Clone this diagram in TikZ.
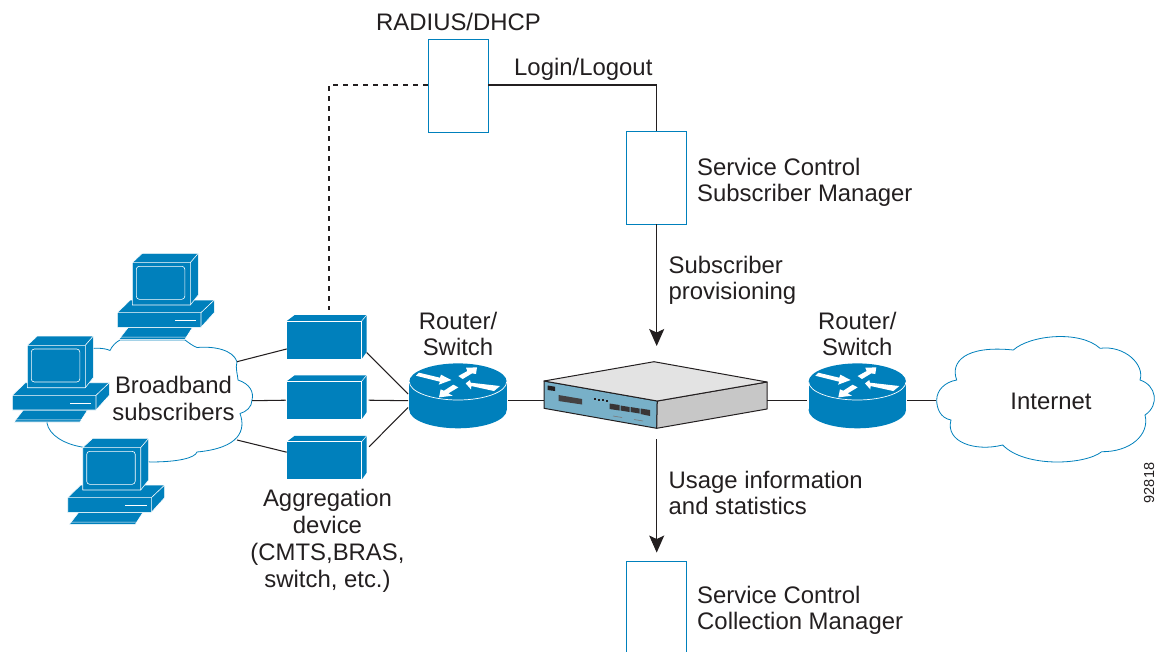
\documentclass[tikz,border=0pt]{standalone}
\usepackage{fontspec}
\setmainfont{Liberation Sans}
\usetikzlibrary{arrows.meta}
\definecolor{ciscoblue}{HTML}{0080BC}
\definecolor{inkdark}{HTML}{231F20}
\definecolor{facebl}{HTML}{78B0C8}
\tikzset{
  lbl/.style={text=inkdark,font=\fontsize{23.9}{26}\selectfont,inner sep=0pt,align=left},
  lblc/.style={text=inkdark,font=\fontsize{23.9}{26}\selectfont,inner sep=0pt,align=center},
  lblw/.style={text=inkdark,font=\fontsize{23.9}{27}\selectfont,inner sep=0pt,align=center},
  wirebox/.style={draw=ciscoblue,fill=white,line width=0.9pt,inner sep=0pt},
  agg/.style={fill=ciscoblue,inner sep=0pt,minimum width=74.5pt,minimum height=37.5pt},
  anchorbox/.style={inner sep=0pt,minimum width=97.4pt,minimum height=56pt},
  wire/.style={draw=inkdark,line width=1.05pt},
  cloudline/.style={draw=ciscoblue,fill=white,line width=0.8pt},
  pcfill/.style={fill=ciscoblue,draw=white,line width=0.6pt,line join=round},
  arr/.style={draw=inkdark,line width=1.05pt,-{Stealth[length=17pt,width=15pt,inset=3.5pt]}}
}
\newcommand{\pccomputer}[2]{%
  \begin{scope}[shift={(#1,#2)}]
    \path[pcfill] (1.7,86) -- (11,74) -- (75.3,74) -- (67.7,86) -- cycle;
    \draw[white,line width=0.6pt] (1.7,83.8) -- (69.5,83.8) -- (75.3,76);
    \path[pcfill] (0,59.3) -- (13,46.7) -- (97,46.7) -- (97,59.3) -- (83.7,74) -- (0,74) -- cycle;
    \draw[white,line width=0.6pt] (0,59.3) -- (83.7,59.3) -- (97,46.7) (83.7,59.3) -- (83.7,74);
    \draw[white,line width=1pt] (57.7,67.3) -- (79,67.3);
    \path[pcfill] (15,51.7) -- (15,9.3) -- (25,0) -- (81,0) -- (81,41.7) -- (73,51.7) -- cycle;
    \draw[white,line width=0.6pt] (15,9.3) -- (73,9.3) -- (81,0) (73,9.3) -- (73,51.7);
    \draw[white,line width=0.6pt,rounded corners=3pt] (19,13) rectangle (67.5,46);
  \end{scope}}
\newcommand{\routerbody}[1]{%
  \begin{scope}[shift={(#1,381.7)}]
    \fill[ciscoblue] (-48.7,0) rectangle (48.7,28.3);
    \fill[ciscoblue] (0,28.3) ellipse [x radius=48.7,y radius=18.3];
    \fill[ciscoblue] (0,0) ellipse [x radius=48.7,y radius=18.3];
    \draw[white,line width=0.7pt] (-48.7,0) arc [start angle=180,end angle=0,x radius=48.7,y radius=18.3];
    \begin{scope}[x=0.3333pt,y=-0.3333pt]
      \fill[white] (-126,-18) -- (-117,-27) -- (-54,-12) -- (-51,-21) -- (-20,-5) -- (-58,9) -- (-54,0) -- cycle;
      \fill[white] (1,-17) -- (28,-32) -- (24,-42) -- (57,-43) -- (54,-23) -- (42,-25) -- (14,-8) -- cycle;
      \fill[white] (23,5) -- (36,-5) -- (38,3) -- (126,13) -- (108,28) -- (40,13) -- (39,23) -- cycle;
      \fill[white] (-57,47) -- (-52,23) -- (-42,27) -- (-14,9) -- (1,17) -- (-29,35) -- (-16,42) -- cycle;
    \end{scope}
  \end{scope}}
\begin{document}
\begin{tikzpicture}[x=1pt,y=-1pt]
\useasboundingbox (0,0) rectangle (1160,651);
\clip (0,0) rectangle (1160,651);

% named anchors
\node[anchorbox] (r1) at (458,400.7) {};
\node[anchorbox] (r2) at (857.3,400.7) {};
\node[inner sep=0pt,minimum width=223pt,minimum height=67pt] (sce) at (655.5,400.7) {};
\node[inner sep=0pt,minimum width=0pt,minimum height=0pt] (cloudLe) at (252,400.7) {};
\node[inner sep=0pt] (cloudRw) at (936.7,400.7) {};

% boxes
\node[wirebox,minimum width=60pt,minimum height=93pt] (radius) at (458,85.5) {};
\node[wirebox,minimum width=60pt,minimum height=93pt] (smgr) at (656.7,177.5) {};
\node[wirebox,minimum width=60pt,minimum height=110pt] (cmgr) at (656.7,616) {};

% aggregation devices
\node[agg] (agg1) at (324.2,340) {};
\node[agg] (agg2) at (324.2,400.2) {};
\node[agg] (agg3) at (324.2,460.7) {};
\foreach \a in {agg1,agg2,agg3}{
  \path[fill=ciscoblue] (\a.north west) -- ([xshift=8pt,yshift=6pt]\a.north west) -- ([xshift=5pt,yshift=6pt]\a.north east) -- ([xshift=5pt,yshift=7pt]\a.south east) -- (\a.south east) -- (\a.north east) -- cycle;
  \draw[white,line width=0.5pt] (\a.north east) -- ([xshift=5pt,yshift=6pt]\a.north east);
  \draw[white,line width=0.7pt] (\a.north west) -- (\a.north east) -- (\a.south east);
}

% clouds
\path[cloudline] (95,348.3) .. controls (102,348) and (107,349) .. (110,350.5)
  .. controls (112,346) and (116,342) .. (120,340)
  -- (185,340) .. controls (189,343) and (193,346) .. (197,347.5)
  .. controls (215,346) and (233,350) .. (237,361.7)
  .. controls (235,368) and (238,376) .. (238,380)
  .. controls (250,384) and (254,392) .. (252,400)
  .. controls (252,407) and (246,412) .. (240,413.5)
  .. controls (246,430) and (240,448) .. (197,452)
  .. controls (195,458) and (178,462) .. (150,462)
  -- (82,447) .. controls (64,444) and (49,435) .. (47,423)
  -- (60,350) -- cycle;
\path[cloudline] (936.7,400) .. controls (936.7,390) and (945,382) .. (956.7,380)
  .. controls (950,362) and (965,345) .. (1013.3,350)
  .. controls (1030,335) and (1080,330) .. (1100,348.3)
  .. controls (1125,345) and (1145,365) .. (1140,380)
  .. controls (1156,385) and (1160,405) .. (1145,415)
  .. controls (1150,435) and (1130,452) .. (1101.7,451.7)
  .. controls (1085,465) and (1025,468) .. (1002.7,445)
  .. controls (975,452) and (945,442) .. (951,420)
  .. controls (940,418) and (936.7,408) .. (936.7,400) -- cycle;

% computers
\pccomputer{117.3}{253.3}
\pccomputer{12.3}{336}
\pccomputer{67.7}{438.3}

% routers
\routerbody{458}
\routerbody{857.3}

% service engine
\path[draw=inkdark,fill=facebl,line width=1pt,line join=round] (544,381) -- (657.3,401) -- (656.7,428.3) -- (544,408.3) -- cycle;
\path[draw=inkdark,fill=black!22,line width=1pt,line join=round] (657.3,401) -- (767,382) -- (767,409) -- (656.7,428.3) -- cycle;
\path[draw=inkdark,fill=black!11,line width=1pt,line join=round] (544,381) -- (654,361.7) -- (767,382) -- (657.3,401) -- cycle;
\fill[inkdark] (547.5,385.5) -- (555,386.7) -- (555,391) -- (547.5,390) -- cycle;
\fill[inkdark!85] (558.5,395) -- (582,399) -- (582,404.5) -- (558.5,401) -- cycle;
\fill[inkdark] (593.5,398) rectangle +(2.5,2);
\fill[inkdark] (597.5,398.5) rectangle +(2.5,2);
\fill[inkdark] (601.5,399) rectangle +(2.5,2);
\fill[inkdark] (605.5,399.5) rectangle +(2.5,2);
\fill[inkdark!90] (609.5,403.5) -- (619.5,405) -- (619.5,410.5) -- (609.5,409) -- cycle;
\fill[inkdark!90] (620.5,405.5) -- (629.5,407) -- (629.5,412) -- (620.5,410.5) -- cycle;
\fill[inkdark!90] (630.5,407) -- (639.5,408.5) -- (639.5,413.5) -- (630.5,412) -- cycle;
\fill[inkdark!90] (640.5,408.5) -- (650,410) -- (650,416) -- (640.5,414) -- cycle;
\draw[inkdark!60,line width=0.6pt] (613,416) -- (622,417.5) (634,419.5) -- (643,421);

% connectors
\draw[wire] (radius.east |- 0,85) -- (smgr.north |- 0,85) -- (smgr.north);
\draw[wire,dash pattern=on 5pt off 5pt] (radius.west |- 0,85) -- (329,85) -- ([xshift=4.8pt,yshift=11pt]agg1.north);
\draw[arr] (smgr.south) -- ([yshift=21pt]sce.north -| smgr.south);
\draw[arr] ([yshift=-5pt]sce.south -| cmgr.north) -- ([yshift=8pt]cmgr.north);
\draw[wire] (237,361.7) -- ([yshift=10pt]agg1.south west);
\draw[wire] (cloudLe) -- ([xshift=-1pt]agg2.west);
\draw[wire] (237,440) -- ([yshift=8.5pt]agg3.west);
\draw[wire] ([xshift=5pt,yshift=6.5pt]agg1.south east) -- ([xshift=-1pt,yshift=6.7pt]r1.west);
\draw[wire] ([xshift=7pt]agg2.east) -- ([xshift=-1pt]r1.west);
\draw[wire] ([xshift=7.5pt,yshift=14pt]agg3.east) -- ([xshift=-1pt,yshift=-6.7pt]r1.west);
\draw[wire] ([xshift=1pt]r1.east) -- (sce.west);
\draw[wire] (sce.east) -- ([xshift=-1pt]r2.west);
\draw[wire] ([xshift=1pt]r2.east) -- (cloudRw);

% labels
\node[lbl,anchor=base west] (t1) at (376,30) {RADIUS/DHCP};
\node[lbl,anchor=base west] (t2) at (514,75) {Login/Logout};
\node[lbl,anchor=west] (t3) at (697,182.5) {Service Control\\Subscriber Manager};
\node[lbl,anchor=west] (t4) at (668.5,280) {Subscriber\\provisioning};
\node[lbl,anchor=west] (t5) at (668.5,493) {Usage information\\and statistics};
\node[lbl,anchor=west] (t6) at (697,610.5) {Service Control\\Collection Manager};
\node[lblc] (t7) at (458,333.5) {Router/\\Switch};
\node[lblc] (t8) at (857.3,333.5) {Router/\\Switch};
\node[lblw] (t9) at (173.5,398) {Broadband\\subscribers};
\node[lblc] (t10) at (1051,401) {Internet};
\node[lblw] (t11) at (327.5,541) {Aggregation\\device\\(CMTS,BRAS,\\switch, etc.)};
\node[text=inkdark,font=\fontsize{14.5}{16}\selectfont,inner sep=0pt,rotate=90] (t12) at (1149,483) {92818};
\end{tikzpicture}
\end{document}
